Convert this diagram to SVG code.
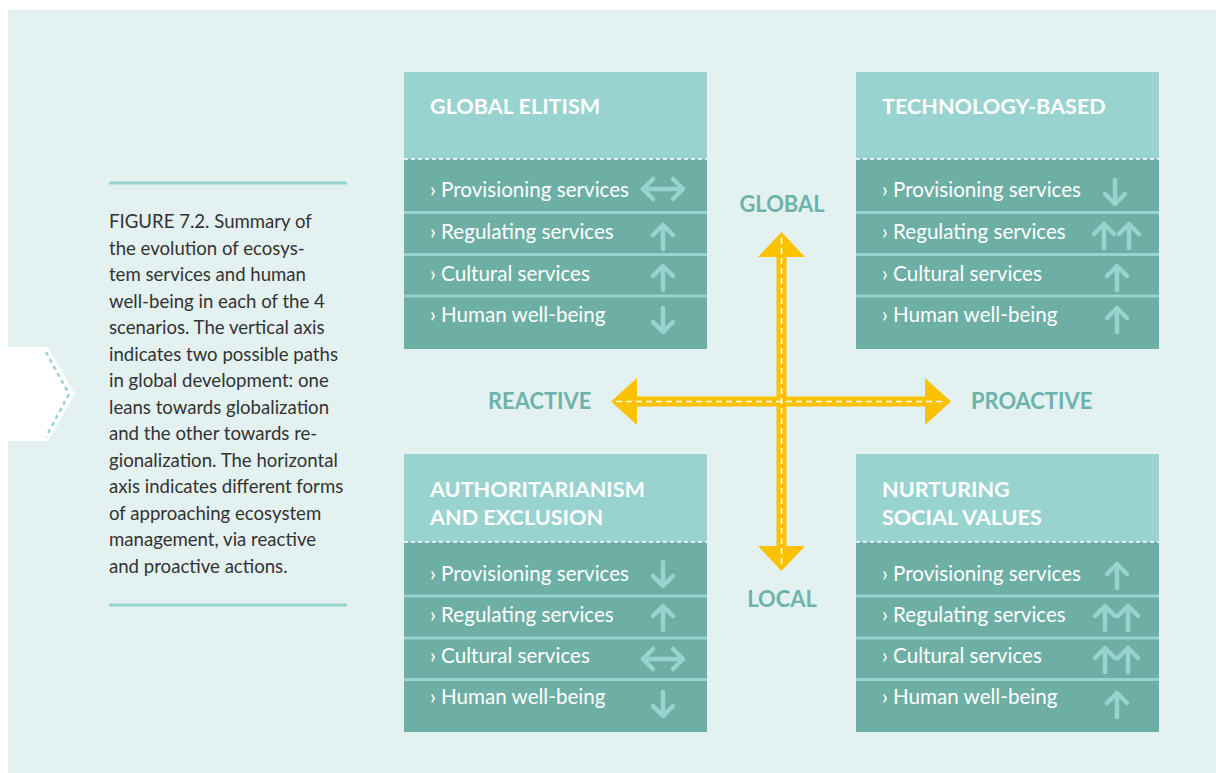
<svg xmlns="http://www.w3.org/2000/svg" xmlns:xlink="http://www.w3.org/1999/xlink" width="1216" height="773" viewBox="0 0 1216 773">
<style>
.hdr{fill:#99d3cf}
.body{fill:#6eafa5}
.sep{stroke:#99d3cf;stroke-width:3}
.dash{stroke:#fff;stroke-width:1.5;stroke-dasharray:4 3;fill:none}
.ttl{font-family:Lato,"Open Sans",sans-serif;font-weight:700;font-size:21.6px;fill:#fff}
.item{font-family:Lato,"Open Sans",sans-serif;font-size:20.6px;fill:#fff}
.ax{font-family:Lato,"Open Sans",sans-serif;font-weight:700;font-size:21.9px;fill:#6db3ab}
.cap{font-family:Lato,"Open Sans",sans-serif;font-size:18.6px;fill:#333}
.arw{stroke:#99d3cf;stroke-width:4.5;stroke-linecap:round;stroke-linejoin:round;fill:none}
.yl{fill:#fcc200}
.yd{stroke:#fff;stroke-width:1.6;stroke-dasharray:6 4;fill:none}
</style>
<defs>
<path id="up" class="arw" d="M0,12 V-12 M-10,-2 L0,-12 L10,-2"/>
<path id="dn" class="arw" d="M0,-12 V12 M-10,2 L0,12 L10,2"/>
<path id="lr" class="arw" d="M-20,0 H20 M-10,-10 L-20,0 L-10,10 M10,-10 L20,0 L10,10"/>
</defs>
<rect x="0" y="0" width="1216" height="773" fill="#fff"/>
<rect x="8" y="10" width="1208" height="763" fill="#e3f1f0"/>
<g id="chevron">
<polygon points="0,347 48,347 75,394 48,441 0,441" fill="#fff"/>
<polyline points="46,352 69,394 46,437" fill="none" stroke="#99d3cf" stroke-width="2.5" stroke-dasharray="4 4"/>
</g>
<g id="caption">
<line x1="109" y1="183" x2="347" y2="183" stroke="#99d3cf" stroke-width="3"/>
<line x1="109" y1="605" x2="347" y2="605" stroke="#99d3cf" stroke-width="3"/>
<text class="cap" x="109" y="228">FIGURE 7.2. Summary of</text>
<text class="cap" x="109" y="254.5">the evolution of ecosys-</text>
<text class="cap" x="109" y="281">tem services and human</text>
<text class="cap" x="109" y="307.5">well-being in each of the 4</text>
<text class="cap" x="109" y="334">scenarios. The vertical axis</text>
<text class="cap" x="109" y="360.5">indicates two possible paths</text>
<text class="cap" x="109" y="387">in global development: one</text>
<text class="cap" x="109" y="413.5">leans towards globalization</text>
<text class="cap" x="109" y="440">and the other towards re-</text>
<text class="cap" x="109" y="466.5">gionalization. The horizontal</text>
<text class="cap" x="109" y="493">axis indicates different forms</text>
<text class="cap" x="109" y="519.5">of approaching ecosystem</text>
<text class="cap" x="109" y="546">management, via reactive</text>
<text class="cap" x="109" y="572.5">and proactive actions.</text>
</g>
<g id="connectors">
<rect class="yl" x="776.5" y="255" width="10" height="293"/>
<polygon class="yl" points="781.5,232 805,257 758,257"/>
<polygon class="yl" points="781.5,571 805,546 758,546"/>
<rect class="yl" x="635" y="396.5" width="292" height="10"/>
<polygon class="yl" points="611,401.5 637,378 637,425"/>
<polygon class="yl" points="951,401.5 925,378 925,425"/>
<line class="yd" x1="616" y1="401.5" x2="946" y2="401.5"/>
<line class="yd" x1="781.5" y1="238" x2="781.5" y2="566"/>
</g>
<g id="axis-labels">
<text class="ax" x="782" y="212" text-anchor="middle">GLOBAL</text>
<text class="ax" x="782" y="607" text-anchor="middle">LOCAL</text>
<text class="ax" x="488" y="409">REACTIVE</text>
<text class="ax" x="971" y="409">PROACTIVE</text>
</g>
<g id="global-elitism">
<rect class="hdr" x="404" y="72" width="303" height="87"/>
<rect class="body" x="404" y="159" width="303" height="190"/>
<line class="sep" x1="404" y1="212.5" x2="707" y2="212.5"/>
<line class="sep" x1="404" y1="254.5" x2="707" y2="254.5"/>
<line class="sep" x1="404" y1="296" x2="707" y2="296"/>
<line class="dash" x1="404" y1="159" x2="707" y2="159"/>
<text class="ttl" x="430" y="114">GLOBAL ELITISM</text>
<text class="item" x="430" y="197">› Provisioning services</text>
<text class="item" x="430" y="239">› Regulating services</text>
<text class="item" x="430" y="281">› Cultural services</text>
<text class="item" x="430" y="322">› Human well-being</text>
<use xlink:href="#lr" x="663" y="189"/>
<use xlink:href="#up" x="663" y="237"/>
<use xlink:href="#up" x="663" y="278"/>
<use xlink:href="#dn" x="663" y="320"/>
</g>
<g id="technology-based">
<rect class="hdr" x="856" y="72" width="303" height="87"/>
<rect class="body" x="856" y="159" width="303" height="190"/>
<line class="sep" x1="856" y1="212.5" x2="1159" y2="212.5"/>
<line class="sep" x1="856" y1="254.5" x2="1159" y2="254.5"/>
<line class="sep" x1="856" y1="296" x2="1159" y2="296"/>
<line class="dash" x1="856" y1="159" x2="1159" y2="159"/>
<text class="ttl" x="882" y="114">TECHNOLOGY-BASED</text>
<text class="item" x="882" y="197">› Provisioning services</text>
<text class="item" x="882" y="239">› Regulating services</text>
<text class="item" x="882" y="281">› Cultural services</text>
<text class="item" x="882" y="322">› Human well-being</text>
<use xlink:href="#dn" x="1115" y="192"/>
<use xlink:href="#up" x="1104" y="236"/>
<use xlink:href="#up" x="1129" y="236"/>
<use xlink:href="#up" x="1117" y="278"/>
<use xlink:href="#up" x="1117" y="320"/>
</g>
<g id="authoritarianism">
<rect class="hdr" x="404" y="454" width="303" height="88"/>
<rect class="body" x="404" y="542" width="303" height="190"/>
<line class="sep" x1="404" y1="596" x2="707" y2="596"/>
<line class="sep" x1="404" y1="638" x2="707" y2="638"/>
<line class="sep" x1="404" y1="679.5" x2="707" y2="679.5"/>
<line class="dash" x1="404" y1="542" x2="707" y2="542"/>
<text class="ttl" x="430" y="497">AUTHORITARIANISM</text>
<text class="ttl" x="430" y="525">AND EXCLUSION</text>
<text class="item" x="430" y="581">› Provisioning services</text>
<text class="item" x="430" y="622">› Regulating services</text>
<text class="item" x="430" y="663">› Cultural services</text>
<text class="item" x="430" y="704">› Human well-being</text>
<use xlink:href="#dn" x="663" y="574"/>
<use xlink:href="#up" x="663" y="618"/>
<use xlink:href="#lr" x="663" y="659"/>
<use xlink:href="#dn" x="663" y="704"/>
</g>
<g id="nurturing-social-values">
<rect class="hdr" x="856" y="454" width="303" height="88"/>
<rect class="body" x="856" y="542" width="303" height="190"/>
<line class="sep" x1="856" y1="596" x2="1159" y2="596"/>
<line class="sep" x1="856" y1="638" x2="1159" y2="638"/>
<line class="sep" x1="856" y1="679.5" x2="1159" y2="679.5"/>
<line class="dash" x1="856" y1="542" x2="1159" y2="542"/>
<text class="ttl" x="882" y="497">NURTURING</text>
<text class="ttl" x="882" y="525">SOCIAL VALUES</text>
<text class="item" x="882" y="581">› Provisioning services</text>
<text class="item" x="882" y="622">› Regulating services</text>
<text class="item" x="882" y="663">› Cultural services</text>
<text class="item" x="882" y="704">› Human well-being</text>
<use xlink:href="#up" x="1117" y="576"/>
<use xlink:href="#up" x="1105" y="618"/>
<use xlink:href="#up" x="1128" y="618"/>
<use xlink:href="#up" x="1105" y="660"/>
<use xlink:href="#up" x="1128" y="660"/>
<use xlink:href="#up" x="1117" y="705"/>
</g>
</svg>
